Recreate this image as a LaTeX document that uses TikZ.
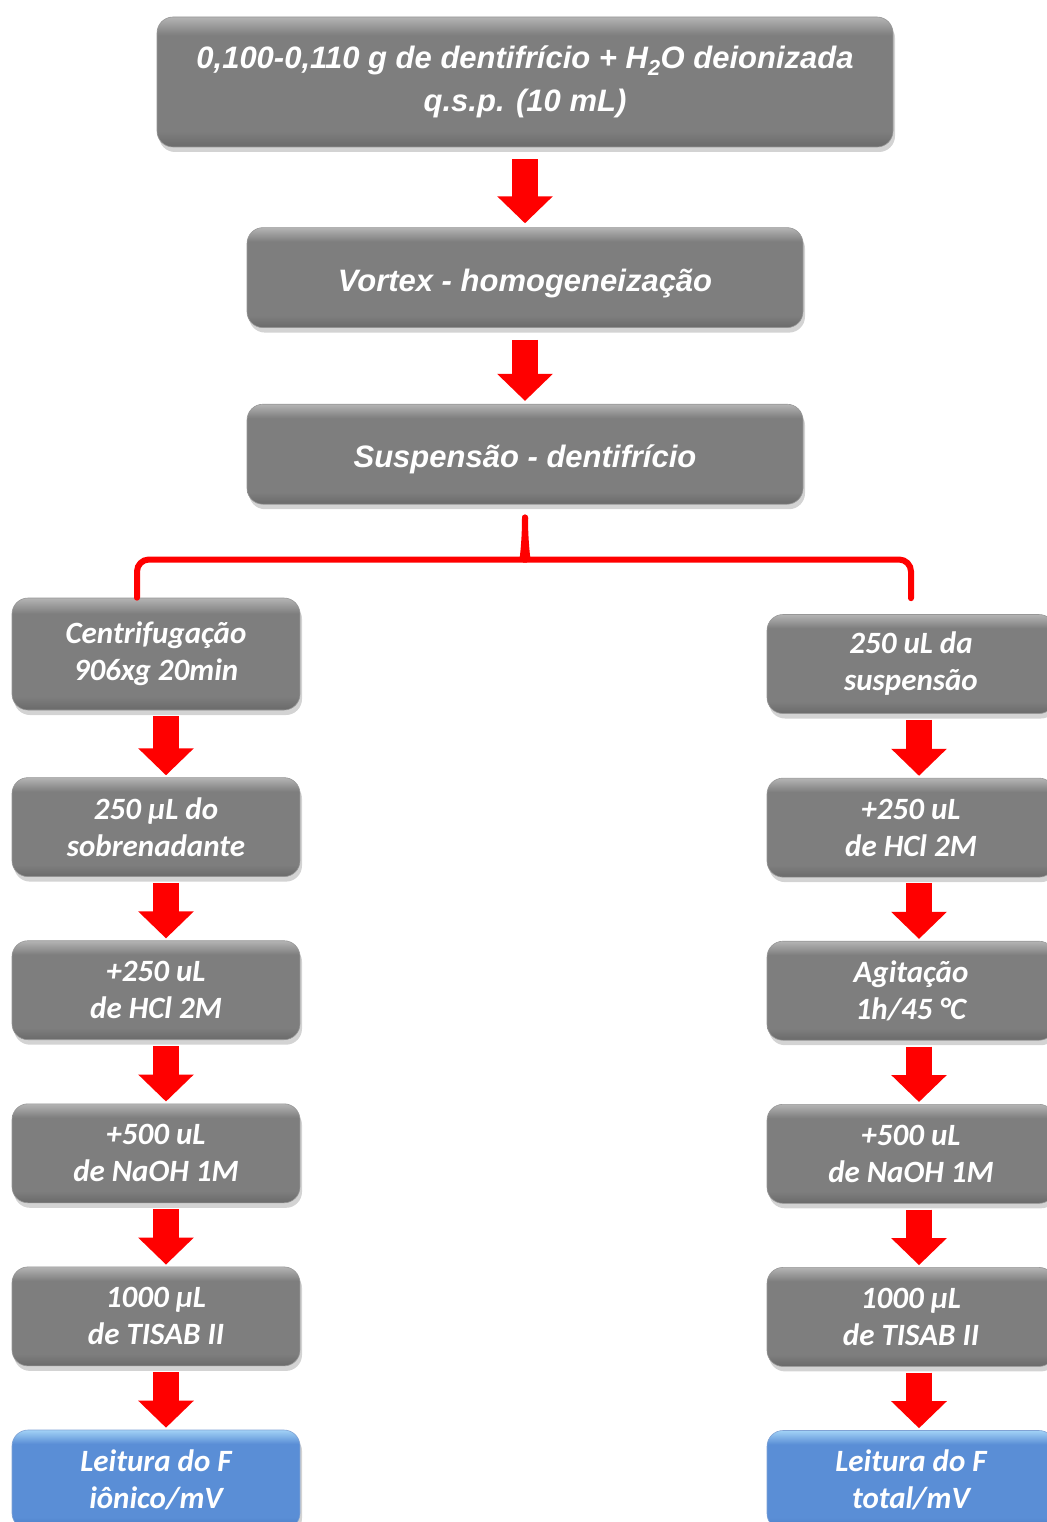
\documentclass[tikz,border=0pt]{standalone}
\usepackage{fontspec}
\setmainfont{Carlito}
\newfontfamily\arialfont{Liberation Sans}
\usepackage{tikz}
\usetikzlibrary{arrows.meta,positioning,calc,shadows}
\definecolor{boxmid}{HTML}{7E7E7E}
\definecolor{boxlight}{HTML}{B4B4B4}
\definecolor{boxdark}{HTML}{6A6A6A}
\definecolor{readmid}{HTML}{5A8ED6}
\definecolor{readlight}{HTML}{A2D2F6}
\definecolor{readdark}{HTML}{4A7AC2}
\definecolor{flowred}{HTML}{FF0000}
\pgfdeclareverticalshading{stepshade}{100bp}{color(0bp)=(boxdark); color(25bp)=(boxdark); color(31bp)=(boxmid); color(68bp)=(boxmid); color(75bp)=(boxlight); color(100bp)=(boxlight)}
\pgfdeclareverticalshading{readshade}{100bp}{color(0bp)=(readdark); color(25bp)=(readdark); color(31bp)=(readmid); color(68bp)=(readmid); color(75bp)=(readlight); color(100bp)=(readlight)}
\tikzset{
  stepbox/.style={
    shade,
    shading=stepshade,
    draw=boxdark!70,
    line width=0.6pt,
    rounded corners=16pt,
    align=center,
    text=white,
    minimum width=288pt,
    minimum height=99pt,
    execute at begin node={\rule{0pt}{34pt}},
    font=\fontsize{31}{37}\selectfont\bfseries\itshape,
    drop shadow={shadow xshift=2pt,shadow yshift=-5pt,opacity=0.35}
  },
  readbox/.style={stepbox, shading=readshade, draw=readdark!70},
  headbox/.style={stepbox, minimum height=100pt,
    font=\arialfont\fontsize{31}{43}\selectfont\bfseries\itshape},
  flowarrow/.style={-{Triangle[length=27pt,width=54pt]}, line width=26pt,
    draw=flowred, shorten <=6pt, shorten >=2pt},
  bracket/.style={draw=flowred, line width=6pt, line cap=round, rounded corners=12pt}
}
\begin{document}
\begin{tikzpicture}[x=1pt, y=1pt, node distance=63.5pt]
\useasboundingbox (0,0) rectangle (1046,-1522);

% common steps
\node[headbox, minimum width=736pt, minimum height=130pt] (dose) at (525,-82) {0,100-0,110 g de dentifrício + H\textsubscript{2}O deionizada\\q.s.p. (10 mL)};
\node[headbox, minimum width=556pt, below=80pt of dose] (vortex) {Vortex - homogeneização};
\node[headbox, minimum width=556pt, below=76pt of vortex] (susp) {Suspensão - dentifrício};

% ionic fluoride
\node[stepbox, minimum height=112pt] (cent) at (156,-654) {Centrifugação\\906xg 20min};
\node[stepbox, below=67pt of cent] (sobreL) {250 µL do\\sobrenadante};
\node[stepbox, below=of sobreL] (hclL) {+250 uL\\de HCl 2M};
\node[stepbox, below=of hclL] (naohL) {+500 uL\\de NaOH 1M};
\node[stepbox, below=of naohL] (tisabL) {1000 µL\\de TISAB II};
\node[readbox, below=of tisabL] (ionico) {Leitura do F\\iônico/mV};

% total fluoride
\node[stepbox] (alq) at (911,-664) {250 uL da\\suspensão};
\node[stepbox, below=64pt of alq] (hclR) {+250 uL\\de HCl 2M};
\node[stepbox, below=of hclR] (agit) {Agitação\\1h/45 °C};
\node[stepbox, below=of agit] (naohR) {+500 uL\\de NaOH 1M};
\node[stepbox, below=of naohR] (tisabR) {1000 µL\\de TISAB II};
\node[readbox, below=of tisabR] (total) {Leitura do F\\total/mV};

\draw[flowarrow, shorten <=12pt, shorten >=4pt] (dose) -- (vortex);
\draw[flowarrow, shorten <=12pt, shorten >=3pt] (vortex) -- (susp);

% split into the two branches
\coordinate (tip) at ([yshift=-13pt]susp.south);
\draw[bracket] ([xshift=-19pt]cent.north) |- ([xshift=-14pt,yshift=-42pt]tip)
  .. controls ([xshift=-3pt,yshift=-42pt]tip) and ([yshift=-28pt]tip) .. (tip);
\draw[bracket] ([yshift=16pt]alq.north) |- ([xshift=14pt,yshift=-42pt]tip)
  .. controls ([xshift=3pt,yshift=-42pt]tip) and ([yshift=-28pt]tip) .. (tip);

\draw[flowarrow] ([xshift=10pt]cent.south) -- ([xshift=10pt]sobreL.north);
\draw[flowarrow] ([xshift=10pt]sobreL.south) -- ([xshift=10pt]hclL.north);
\draw[flowarrow] ([xshift=10pt]hclL.south) -- ([xshift=10pt]naohL.north);
\draw[flowarrow] ([xshift=10pt]naohL.south) -- ([xshift=10pt]tisabL.north);
\draw[flowarrow] ([xshift=10pt]tisabL.south) -- ([xshift=10pt]ionico.north);

\draw[flowarrow] ([xshift=8pt]alq.south) -- ([xshift=8pt]hclR.north);
\draw[flowarrow] ([xshift=8pt]hclR.south) -- ([xshift=8pt]agit.north);
\draw[flowarrow] ([xshift=8pt]agit.south) -- ([xshift=8pt]naohR.north);
\draw[flowarrow] ([xshift=8pt]naohR.south) -- ([xshift=8pt]tisabR.north);
\draw[flowarrow] ([xshift=8pt]tisabR.south) -- ([xshift=8pt]total.north);
\end{tikzpicture}
\end{document}
